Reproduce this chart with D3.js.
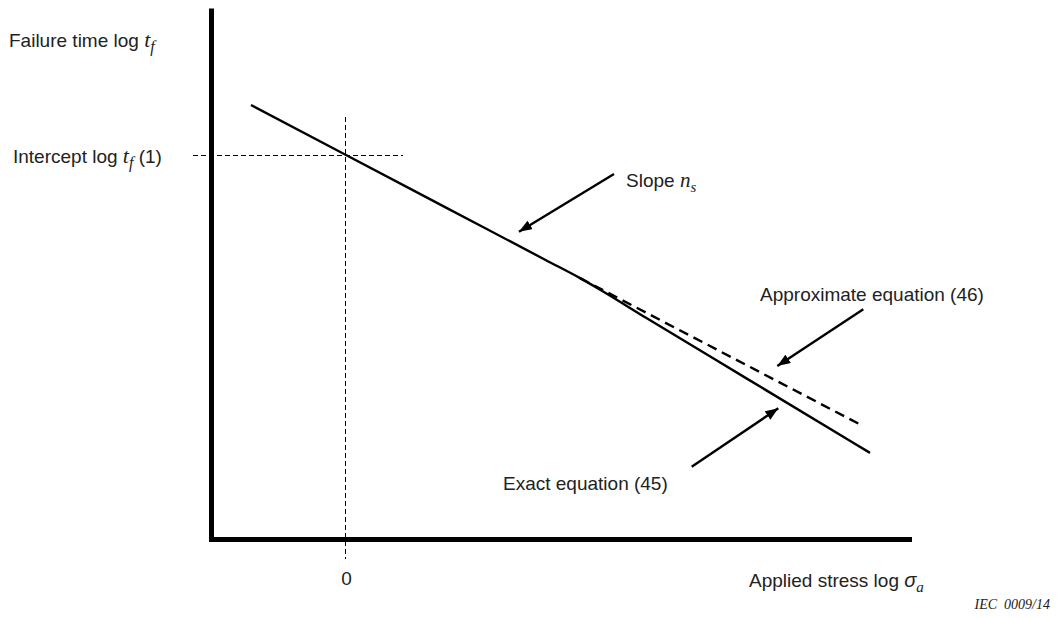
<!DOCTYPE html>
<html>
<head>
<meta charset="utf-8">
<script src="https://cdn.jsdelivr.net/npm/d3@7"></script>
<style>
  html, body { margin: 0; padding: 0; background: #fff; }
  svg { display: block; }
  text { font-family: "Liberation Sans", Arial, sans-serif; fill: #222; }
  .serif { font-family: "Liberation Serif", "Times New Roman", serif; font-style: italic; }
</style>
</head>
<body>
<svg id="chart" width="1061" height="617"></svg>
<script>
// Exact relation (45): log tf vs log σa, bends away from the straight line at high stress
const exactX = [-0.95, 0, 1, 2, 2.35, 2.55, 3, 4, 5.24];
const exactY = [4.34, 3.84, 3.314, 2.788, 2.604, 2.488, 2.212, 1.609, 0.861];

// Approximate relation (46): straight continuation with slope n_s
const approxX = [2.34, 5.17];
const approxY = [2.609, 1.13];

// Intercept log tf(1) at log σa = 0
const interceptY = 3.84;
const xTickValues = [0];
const xTickLabels = ["0"];

const svg = d3.select("#chart");
const x = d3.scaleLinear().domain([-1.35, 5.63]).range([211, 909]);
const y = d3.scaleLinear().domain([0, 5.285]).range([539, 10.5]);

// Guide lines through the intercept (offset half a pixel for crisp 1px strokes)
svg.append("line")
  .attr("x1", x(0) - 0.5).attr("x2", x(0) - 0.5)
  .attr("y1", y(4.22)).attr("y2", y(-0.2))
  .attr("stroke", "#000").attr("stroke-width", 1).attr("stroke-dasharray", "5,3");
svg.append("line")
  .attr("x1", x(-1.53)).attr("x2", x(0.57))
  .attr("y1", y(interceptY) + 0.5).attr("y2", y(interceptY) + 0.5)
  .attr("stroke", "#000").attr("stroke-width", 1).attr("stroke-dasharray", "5,3");

// Axes
const yAxis = svg.append("g").attr("transform", `translate(${x(-1.35)},0)`)
  .call(d3.axisLeft(y).ticks(0).tickSizeOuter(0));
yAxis.select(".domain").attr("stroke", "#000").attr("stroke-width", 5).attr("stroke-linecap", "square");

const xAxis = svg.append("g").attr("transform", `translate(0,${y(0)})`)
  .call(d3.axisBottom(x).tickValues(xTickValues).tickSize(0).tickSizeOuter(0).tickPadding(33)
    .tickFormat((d, i) => xTickLabels[i]));
xAxis.select(".domain").attr("stroke", "#000").attr("stroke-width", 5).attr("stroke-linecap", "square");
xAxis.selectAll(".tick text")
  .attr("font-family", "Liberation Sans, Arial, sans-serif")
  .attr("font-size", 19).attr("fill", "#222");

// Curves
const line = d3.line().x(d => x(d[0])).y(d => y(d[1]));
svg.append("path")
  .datum(approxX.map((v, i) => [v, approxY[i]]))
  .attr("d", line)
  .attr("fill", "none").attr("stroke", "#000").attr("stroke-width", 2.4)
  .attr("stroke-dasharray", "10,6");
svg.append("path")
  .datum(exactX.map((v, i) => [v, exactY[i]]))
  .attr("d", line.curve(d3.curveMonotoneX))
  .attr("fill", "none").attr("stroke", "#000").attr("stroke-width", 2.4);

// Arrow marker
svg.append("defs").append("marker")
  .attr("id", "head").attr("viewBox", "0 0 13 10")
  .attr("refX", 13).attr("refY", 5)
  .attr("markerWidth", 13).attr("markerHeight", 10)
  .attr("markerUnits", "userSpaceOnUse")
  .attr("orient", "auto")
  .append("path").attr("d", "M0,0 L13,5 L0,10 Z").attr("fill", "#000");

const arrows = [
  { from: [2.68, 3.65], to: [1.73, 3.073] },
  { from: [5.173, 2.297], to: [4.313, 1.73] },
  { from: [3.457, 0.723], to: [4.323, 1.307] }
];
svg.selectAll("line.arrow").data(arrows).join("line")
  .attr("class", "arrow")
  .attr("x1", d => x(d.from[0])).attr("y1", d => y(d.from[1]))
  .attr("x2", d => x(d.to[0])).attr("y2", d => y(d.to[1]))
  .attr("stroke", "#000").attr("stroke-width", 2.4)
  .attr("marker-end", "url(#head)");

// Labels with italic symbols and subscripts
function label(px, py, parts, size) {
  const t = svg.append("text").attr("x", px).attr("y", py).attr("font-size", size);
  parts.forEach(p => {
    const s = t.append("tspan").text(p.t);
    if (p.serif) s.attr("class", "serif");
    if (p.italic) s.attr("font-style", "italic");
    if (p.size) s.attr("font-size", p.size);
    if (p.dy) s.attr("dy", p.dy);
  });
  return t;
}

label(9, 47, [
  { t: "Failure time log " }, { t: "t", serif: true, size: 22 },
  { t: "f", serif: true, size: 16, dy: 5 }
], 19);

label(13, 163, [
  { t: "Intercept log " }, { t: "t", serif: true, size: 22 },
  { t: "f", serif: true, size: 16, dy: 5 }, { t: " (1)", dy: -5 }
], 19);

label(626, 187, [
  { t: "Slope " }, { t: "n", serif: true, size: 21 },
  { t: "s", serif: true, size: 15, dy: 5 }
], 19);

label(760, 301, [{ t: "Approximate equation (46)" }], 19);
label(503, 490, [{ t: "Exact equation (45)" }], 19);

label(749, 587, [
  { t: "Applied stress log " }, { t: "σ", italic: true, size: 20 },
  { t: "a", serif: true, size: 15, dy: 5 }
], 19);

svg.append("text").attr("x", 1050).attr("y", 609)
  .attr("text-anchor", "end").attr("class", "serif").attr("font-size", 14)
  .attr("xml:space", "preserve")
  .text("IEC  0009/14");
</script>
</body>
</html>
